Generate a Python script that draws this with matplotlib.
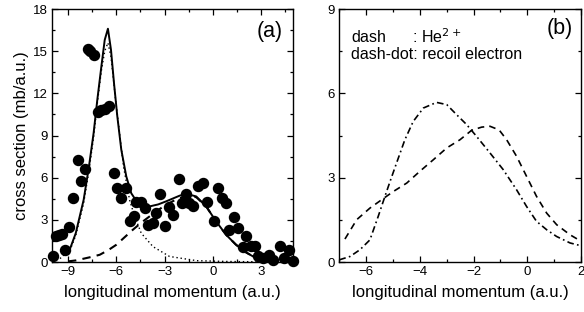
import matplotlib
matplotlib.use('Agg')
import matplotlib.pyplot as plt
from matplotlib.ticker import MultipleLocator

plt.rcParams['font.family'] = ['Liberation Sans', 'DejaVu Sans']

# panel (a): measured points
exp_x = [-9.93, -9.77, -9.56, -9.35, -9.17, -8.94, -8.69, -8.40, -8.17, -7.94,
         -7.76, -7.61, -7.41, -7.16, -6.93, -6.70, -6.45, -6.14, -5.96, -5.69,
         -5.42, -5.17, -4.88, -4.76, -4.45, -4.22, -4.01, -3.72, -3.52, -3.27,
         -2.96, -2.73, -2.48, -2.13, -1.94, -1.69, -1.49, -1.24, -0.91, -0.62,
         -0.37, 0.10, 0.33, 0.58, 0.83, 1.04, 1.33, 1.57, 1.86, 2.09,
         2.38, 2.65, 2.80, 3.10, 3.48, 3.77, 4.20, 4.45, 4.76, 4.97]
exp_y = [0.45, 1.87, 1.92, 1.97, 0.88, 2.49, 4.55, 7.28, 5.74, 6.62,
         15.18, 14.99, 14.75, 10.65, 10.79, 10.88, 11.07, 6.33, 5.24, 4.58,
         5.26, 2.89, 3.30, 4.24, 4.24, 3.84, 2.66, 2.77, 3.49, 4.86,
         2.54, 3.91, 3.37, 5.90, 4.20, 4.86, 4.20, 3.96, 5.38, 5.62,
         4.24, 2.89, 5.26, 4.55, 4.20, 2.25, 3.20, 2.40, 1.07, 1.83,
         1.11, 1.11, 0.45, 0.28, 0.52, 0.17, 1.16, 0.28, 0.83, 0.10]

# panel (a): total fit (solid)
tot_x = [-8.86, -8.52, -8.03, -7.70, -7.41, -7.18, -6.93, -6.72, -6.52, -6.33,
         -6.14, -5.94, -5.69, -5.38, -5.07, -4.80, -4.34, -3.93, -3.40, -2.90,
         -2.07, -1.65, -1.03, -0.41, 0.21, 0.83, 1.45, 2.07, 2.69, 3.10]
tot_y = [1.0, 2.06, 4.43, 6.8, 9.18, 11.55, 13.9, 15.8, 16.6, 15.1,
         12.7, 10.4, 8.0, 6.1, 4.9, 4.43, 4.15, 3.96, 4.1, 4.32,
         4.72, 4.86, 4.67, 3.96, 2.89, 1.94, 1.23, 0.69, 0.28, 0.05]

# panel (a): sharp component (dotted)
pk_x = [-9.5, -8.86, -8.52, -8.03, -7.70, -7.41, -7.18, -6.93, -6.72, -6.52,
        -6.33, -6.14, -6.04, -5.80, -5.55, -5.17, -4.86, -4.45, -3.72, -2.69,
        -1.0, 1.0, 3.0, 5.0]
pk_y = [0.25, 0.9, 1.9, 4.2, 6.5, 8.9, 11.3, 13.6, 15.0, 15.6,
        14.6, 12.6, 11.5, 9.2, 6.8, 4.4, 3.25, 2.06, 1.1, 0.4,
        0.1, 0.04, 0.02, 0.01]

# panel (a): broad component (dashed)
br_x = [-9.0, -8.5, -8.0, -7.5, -7.03, -6.5, -6.0, -5.5, -4.97, -4.45,
        -3.93, -3.40, -2.90, -2.45, -2.07, -1.55, -1.03, -0.41, 0.21, 0.83,
        1.45, 2.07, 2.69, 3.10]
br_y = [0.05, 0.12, 0.25, 0.38, 0.52, 0.85, 1.23, 1.75, 2.3, 2.8,
        3.25, 3.7, 4.08, 4.35, 4.55, 4.67, 4.62, 3.96, 2.89, 1.94,
        1.23, 0.69, 0.28, 0.05]

# panel (b): He2+ (dashed)
he_x = [-6.79, -6.35, -5.86, -5.42, -4.99, -4.49, -4.0, -3.50, -3.0, -2.51,
        -2.07, -1.70, -1.39, -1.05, -0.77, -0.40, -0.03, 0.34, 0.72, 1.09,
        1.59, 2.0]
he_y = [0.82, 1.51, 1.92, 2.22, 2.51, 2.81, 3.23, 3.64, 4.06, 4.35,
        4.69, 4.80, 4.83, 4.70, 4.35, 3.76, 3.05, 2.34, 1.74, 1.33,
        0.97, 0.74]

# panel (b): recoil electron (dash-dot)
el_x = [-7.0, -6.60, -6.23, -5.86, -5.55, -5.30, -5.11, -4.87, -4.56, -4.25,
        -3.87, -3.38, -3.0, -2.63, -2.26, -1.89, -1.39, -0.90, -0.40, -0.03,
        0.34, 0.72, 1.09, 1.59, 2.0]
el_y = [0.08, 0.2, 0.44, 0.79, 1.63, 2.34, 2.87, 3.52, 4.35, 5.0,
        5.48, 5.68, 5.6, 5.24, 4.89, 4.47, 3.88, 3.29, 2.57, 1.98,
        1.45, 1.15, 0.91, 0.68, 0.58]


def style_axes(ax, xmaj, xmin, ymaj, ymin):
    ax.xaxis.set_major_locator(MultipleLocator(xmaj))
    ax.xaxis.set_minor_locator(MultipleLocator(xmin))
    ax.yaxis.set_major_locator(MultipleLocator(ymaj))
    ax.yaxis.set_minor_locator(MultipleLocator(ymin))
    ax.tick_params(which='both', direction='in', top=True, right=True,
                   labelsize=9.5, width=0.9, pad=3)
    ax.tick_params(which='major', length=4)
    ax.tick_params(which='minor', length=2.5)
    for s in ax.spines.values():
        s.set_linewidth(1.0)
    ax.set_xlabel('longitudinal momentum (a.u.)', fontsize=12, labelpad=5)


fig = plt.figure(figsize=(5.84, 3.12), dpi=100)
ax1 = fig.add_axes([0.089, 0.160, 0.413, 0.811])
ax2 = fig.add_axes([0.581, 0.160, 0.414, 0.811])

ax1.scatter(exp_x, exp_y, s=52, color='black', zorder=3, clip_on=False)
ax1.plot(tot_x, tot_y, color='black', lw=1.4)
ax1.plot(pk_x, pk_y, color='black', lw=1.0, linestyle=(0, (1, 2)))
ax1.plot(br_x, br_y, color='black', lw=1.5, linestyle=(0, (4, 3)))
ax1.set_xlim(-10, 5)
ax1.set_ylim(0, 18)
style_axes(ax1, 3, 1.5, 3, 1.5)
ax1.set_ylabel('cross section (mb/a.u.)', fontsize=12, labelpad=3)
ax1.text(0.955, 0.91, '(a)', transform=ax1.transAxes, fontsize=15.5,
         ha='right', va='center')

ax2.plot(he_x, he_y, color='black', lw=1.2, linestyle=(0, (4, 3)))
ax2.plot(el_x, el_y, color='black', lw=1.2, linestyle=(0, (4, 2, 1, 2)))
ax2.set_xlim(-7, 2)
ax2.set_ylim(0, 9)
style_axes(ax2, 2, 1, 3, 1.5)
ax2.text(0.965, 0.925, '(b)', transform=ax2.transAxes, fontsize=15.5,
         ha='right', va='center')
ax2.text(0.05, 0.89, 'dash      : He$^{2+}$', transform=ax2.transAxes,
         fontsize=11.5, ha='left', va='center')
ax2.text(0.05, 0.82, 'dash-dot: recoil electron', transform=ax2.transAxes,
         fontsize=11.5, ha='left', va='center')

fig.savefig('out.png', dpi=100)
